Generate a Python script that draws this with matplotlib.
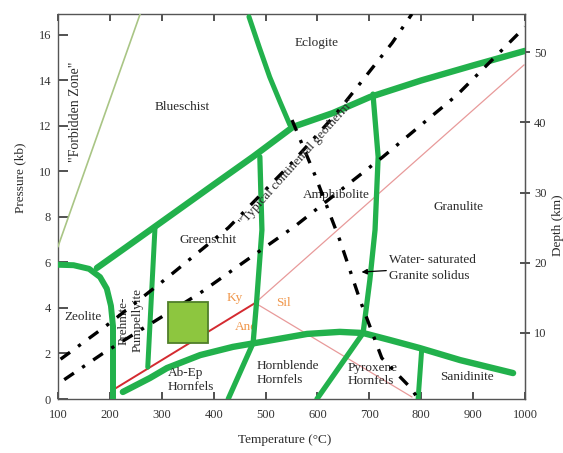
import numpy as np
import matplotlib
matplotlib.use("Agg")
import matplotlib.pyplot as plt
from matplotlib.patches import Rectangle

plt.rcParams['font.family'] = ['Liberation Serif', 'DejaVu Serif']

forbidden_T = [100, 258]
forbidden_P = [6.7, 16.9]

zeolite_T = [100, 130, 160, 181, 194, 202, 206, 206]
zeolite_P = [5.9, 5.88, 5.72, 5.36, 4.85, 4.1, 3.2, 0]

blueschist_T = [175, 230, 281, 335, 400, 476, 553, 630, 701, 800, 900, 1000]
blueschist_P = [5.76, 6.65, 7.48, 8.36, 9.42, 10.65, 11.96, 12.57, 13.27, 14.0, 14.66, 15.3]

eclogite_T = [468, 488, 508, 528, 547]
eclogite_P = [16.8, 15.45, 14.15, 13.05, 12.04]

prehnite_T = [287, 280, 273]
prehnite_P = [7.55, 4.5, 1.4]

greenschist_T = [489, 493, 483, 476, 428]
greenschist_P = [10.65, 7.43, 4.35, 2.46, 0]

granulite_T = [707, 717, 711, 701, 688, 599]
granulite_P = [13.4, 10.64, 7.43, 5.23, 2.9, 0]

hornfels_T = [225, 277, 310, 374, 437, 503, 580, 643, 688, 740, 797, 875, 977]
hornfels_P = [0.31, 0.92, 1.36, 1.93, 2.29, 2.55, 2.86, 2.95, 2.9, 2.59, 2.24, 1.71, 1.14]

sanidinite_T = [801, 794]
sanidinite_P = [2.2, 0]

geotherm1_T = [105, 200, 310, 428, 547, 634, 744, 782]
geotherm1_P = [1.75, 3.34, 5.32, 7.52, 10.29, 12.48, 15.65, 16.92]

geotherm2_T = [112, 185, 374, 464, 557, 726, 869, 1000]
geotherm2_P = [0.85, 1.98, 4.66, 6.11, 7.6, 10.64, 13.36, 16.35]

solidus_T = [551, 595, 643, 682, 724, 778, 790]
solidus_P = [12.26, 9.85, 6.99, 4.35, 1.8, 0.53, 0.15]

ky_and_T = [206, 480]
ky_and_P = [0.4, 4.22]
ky_sil_T = [480, 998]
ky_sil_P = [4.22, 14.68]
and_sil_T = [480, 782]
and_sil_P = [4.22, 0.09]

box_T = [312, 389]
box_P = [2.46, 4.26]

verde = '#22b14c'
txt = '#2a2a2a'
naranja = '#f0964a'

fig = plt.figure(figsize=(5.63, 4.53), dpi=100)
ax = fig.add_axes([58/563, 1-399/453, (525-58)/563, (399-14)/453])
ax.set_xlim(100, 1000)
ax.set_ylim(0, 16.92)

# lineas verdes
kw = dict(color=verde, solid_capstyle='round', solid_joinstyle='round', zorder=3)
ax.plot(forbidden_T, forbidden_P, color='#a9c585', lw=1.2, zorder=3)
ax.plot(zeolite_T, zeolite_P, lw=4.3, **kw)
ax.plot(blueschist_T, blueschist_P, lw=4.6, **kw)
ax.plot(eclogite_T, eclogite_P, lw=3.6, **kw)
ax.plot(prehnite_T, prehnite_P, lw=3.6, **kw)
ax.plot(greenschist_T, greenschist_P, lw=3.8, **kw)
ax.plot(granulite_T, granulite_P, lw=3.8, **kw)
ax.plot(hornfels_T, hornfels_P, lw=4.6, **kw)
ax.plot(sanidinite_T, sanidinite_P, lw=3.6, **kw)

# aluminosilicatos
ax.plot(ky_and_T, ky_and_P, color='#d42a30', lw=1.4, zorder=2)
ax.plot(ky_sil_T, ky_sil_P, color='#e89a9a', lw=0.9, zorder=2)
ax.plot(and_sil_T, and_sil_P, color='#e89a9a', lw=0.9, zorder=2)

# geotermas
dd = (0, (3.5, 3.0, 1.0, 3.0))
ax.plot(geotherm1_T, geotherm1_P, color='k', lw=2.4, linestyle=dd, zorder=4)
ax.plot(geotherm2_T, geotherm2_P, color='k', lw=2.4, linestyle=dd, zorder=4)
ax.plot(solidus_T, solidus_P, color='k', lw=2.4, linestyle=dd, zorder=4)

ax.add_patch(Rectangle((box_T[0], box_P[0]), box_T[1]-box_T[0], box_P[1]-box_P[0],
                       facecolor='#8dc63f', edgecolor='#4f7f2a', lw=1.3, zorder=5))

# textos
fs = 9.5
ax.text(599, 15.65, "Eclogite", fontsize=fs, color=txt, ha='center', va='center')
ax.text(339, 12.84, "Blueschist", fontsize=fs, color=txt, ha='center', va='center')
ax.text(134, 12.6, '"Forbidden Zone"', fontsize=fs+0.5, color=txt, rotation=90,
        ha='center', va='center')
ax.text(389, 6.99, "Greenschit", fontsize=fs, color=txt, ha='center', va='center')
ax.text(636, 8.97, "Amphibolite", fontsize=fs, color=txt, ha='center', va='center', zorder=1)
ax.text(871, 8.44, "Granulite", fontsize=fs, color=txt, ha='center', va='center')
ax.text(148, 3.6, "Zeolite", fontsize=fs, color=txt, ha='center', va='center')
ax.text(240, 3.45, "Prehnite-\nPumpellyite", fontsize=fs, color=txt, rotation=90,
        ha='center', va='center', multialignment='center', linespacing=1.15)
ax.text(560, 10.4, '"Typical continental geotherm"', fontsize=fs, color=txt,
        rotation=48, ha='center', va='center', rotation_mode='anchor', zorder=5)
ax.text(441, 4.44, "Ky", fontsize=fs, color=naranja, ha='center', va='center')
ax.text(535, 4.2, "Sil", fontsize=fs, color=naranja, ha='center', va='center')
ax.text(462, 3.16, "And", fontsize=fs, color=naranja, ha='center', va='center', zorder=1)
ax.text(312, 0.83, "Ab-Ep\nHornfels", fontsize=fs, color=txt, ha='left', va='center',
        linespacing=1.2)
ax.text(483, 1.16, "Hornblende\nHornfels", fontsize=fs, color=txt, ha='left', va='center',
        linespacing=1.2)
ax.text(659, 1.08, "Pyroxene\nHornfels", fontsize=fs, color=txt, ha='left', va='center',
        linespacing=1.2)
ax.text(888, 0.97, "Sanidinite", fontsize=fs, color=txt, ha='center', va='center')
ax.annotate("Water- saturated\nGranite solidus", xy=(685, 5.58), xytext=(738, 5.76),
            fontsize=fs, color=txt, ha='left', va='center', linespacing=1.45,
            arrowprops=dict(arrowstyle='-|>', color='k', lw=0.9, mutation_scale=8,
                            shrinkA=0, shrinkB=0))

# ejes
ax.set_xticks(np.arange(100, 1001, 100))
ax.set_yticks(np.arange(0, 17, 2))
ax.tick_params(axis='x', direction='in', top=True, length=5, width=1.2,
               labelsize=9, pad=7, colors='#333333')
ax.tick_params(axis='y', direction='in', right=False, length=7, width=1.2,
               labelsize=9, pad=5, colors='#333333')
for s in ax.spines.values():
    s.set_color('#555555')
    s.set_linewidth(1.0)

sec = ax.secondary_yaxis('right', functions=(lambda p: 3.24*p + 0.6,
                                             lambda d: (d - 0.6)/3.24))
sec.set_yticks([10, 20, 30, 40, 50])
sec.tick_params(direction='inout', length=7, width=1.2, labelsize=9, pad=3,
                colors='#333333')
sec.spines['right'].set_color('#555555')

fig.text(20/563, 1-178/453, "Pressure (kb)", rotation=90, fontsize=9.5, color=txt,
         ha='center', va='center')
fig.text(285/563, 1-440/453, "Temperature (°C)", fontsize=9.5, color=txt,
         ha='center', va='center')
fig.text(558/563, 1-225/453, "Depth (km)", rotation=90, fontsize=9.5, color=txt,
         ha='center', va='center')

fig.savefig("out.png", dpi=100)
